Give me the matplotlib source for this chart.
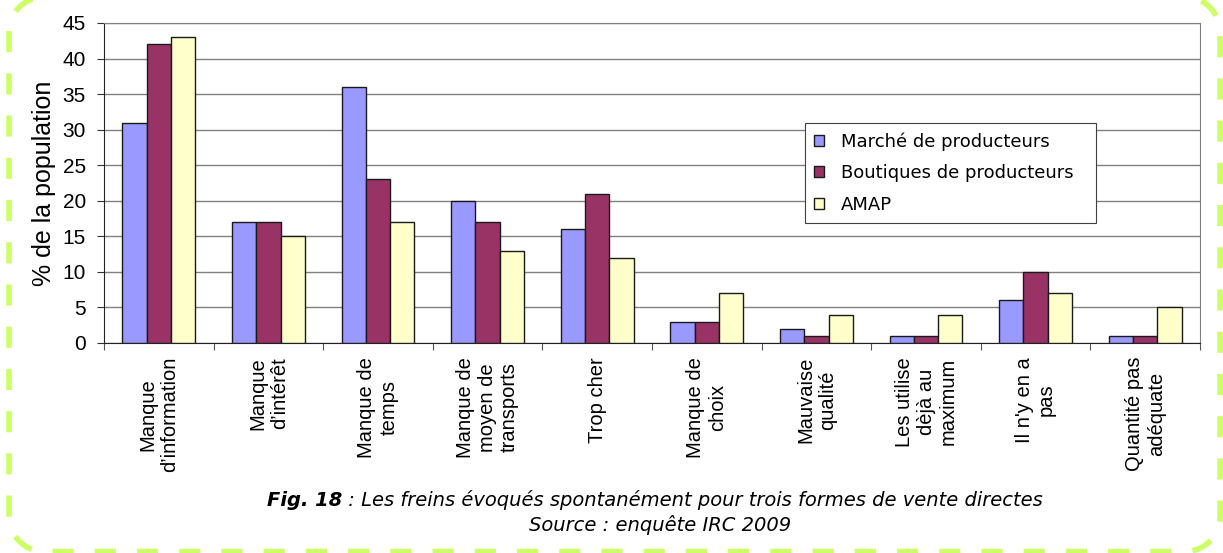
import numpy as np
import matplotlib
matplotlib.use('Agg')
import matplotlib.pyplot as plt
from matplotlib.lines import Line2D
from matplotlib.transforms import IdentityTransform

# donnees
categories = ["Manque\nd\u2019information", "Manque\nd\u2019int\u00e9r\u00eat", "Manque de\ntemps",
              "Manque de\nmoyen de\ntransports", "Trop cher", "Manque de\nchoix",
              "Mauvaise\nqualit\u00e9", "Les utilise\nd\u00e8j\u00e0 au\nmaximum",
              "Il n'y en a\npas", "Quantit\u00e9 pas\nad\u00e9quate"]
marche = [31, 17, 36, 20, 16, 3, 2, 1, 6, 1]
boutiques = [42, 17, 23, 17, 21, 3, 1, 1, 10, 1]
amap = [43, 15, 17, 13, 12, 7, 4, 4, 7, 5]
series_names = ["March\u00e9 de producteurs", "Boutiques de producteurs", "AMAP"]
colors = ['#9999ff', '#993366', '#ffffcc']

fig = plt.figure(figsize=(12.23, 5.53), dpi=100)
ax = fig.add_axes([104/1223, 1-343/553, 1096/1223, 320/553])

x = np.arange(len(categories)) + 0.5
w = 0.222
for k, vals in enumerate([marche, boutiques, amap]):
    ax.bar(x + (k-1)*w, vals, w, color=colors[k], edgecolor='#1a1a1a',
           linewidth=1, label=series_names[k], zorder=3)

ax.set_xlim(0, len(categories))
ax.set_ylim(0, 45)
ax.set_yticks(range(0, 46, 5))
ax.yaxis.grid(True, color='#808080', linewidth=1, zorder=0)
ax.set_axisbelow(True)

ax.set_xticks(range(0, len(categories)+1))
ax.set_xticklabels([])
ax.set_xticks(x, minor=True)
ax.set_xticklabels(categories, minor=True, rotation=90, va='top', ha='center',
                   multialignment='center', fontsize=14.5, family='Liberation Sans')
ax.tick_params(axis='x', which='minor', length=0, pad=10)
ax.tick_params(axis='x', which='major', length=5, color='#555555')
ax.tick_params(axis='y', length=5, color='#333333', labelsize=15, pad=8)
for lab in ax.get_yticklabels():
    lab.set_family('Liberation Sans')

ax.set_ylabel('% de la population', fontsize=18, family='Liberation Sans', labelpad=5)

for s in ['top', 'right']:
    ax.spines[s].set_color('#808080')
ax.spines['left'].set_color('#222222')
ax.spines['bottom'].set_color('#222222')

leg = ax.legend(loc='upper left', bbox_to_anchor=(0.64, 0.359, 0.265, 0.328), mode='expand',
                borderaxespad=0, handlelength=0.55, handleheight=0.55,
                handletextpad=0.9, labelspacing=0.75, borderpad=0.5,
                fancybox=False, framealpha=1, edgecolor='#404040',
                prop={'family': 'DejaVu Sans', 'size': 13})
leg.get_frame().set_linewidth(0.8)

# legende de la figure
cap = ' : Les freins \u00e9voqu\u00e9s spontan\u00e9ment pour trois formes de vente directes'
t1 = fig.text(267/1223, 1-500/553, 'Fig. 18', fontsize=14, style='italic', weight='bold',
              family='DejaVu Sans', ha='left', va='center')
plt.annotate(cap, xy=(1, 0), xycoords=t1, ha='left', va='bottom', fontsize=14,
             style='italic', family='DejaVu Sans', annotation_clip=False)
fig.text(660/1223, 1-525/553, 'Source : enqu\u00eate IRC 2009', fontsize=14, style='italic',
         family='DejaVu Sans', ha='center', va='center')

# cadre vert en pointilles, sans le bord du haut (hors image)
L, R, B, T, r = 9, 1220, 1.5, 556, 35
def arc(cx, cy, a0, a1):
    t = np.radians(np.linspace(a0, a1, 20))
    return cx + r*np.cos(t), cy + r*np.sin(t)
pieces = [arc(L+r, T-r, 90, 180), arc(L+r, B+r, 180, 270),
          arc(R-r, B+r, 270, 360), arc(R-r, T-r, 0, 90)]
bx = np.concatenate([p[0] for p in pieces])
by = np.concatenate([p[1] for p in pieces])
border = Line2D(bx, by, transform=IdentityTransform(), color='#ccff66',
                linewidth=4, dashes=(3.8, 3.8), solid_capstyle='butt')
fig.add_artist(border)

fig.savefig('out.png', dpi=100)
